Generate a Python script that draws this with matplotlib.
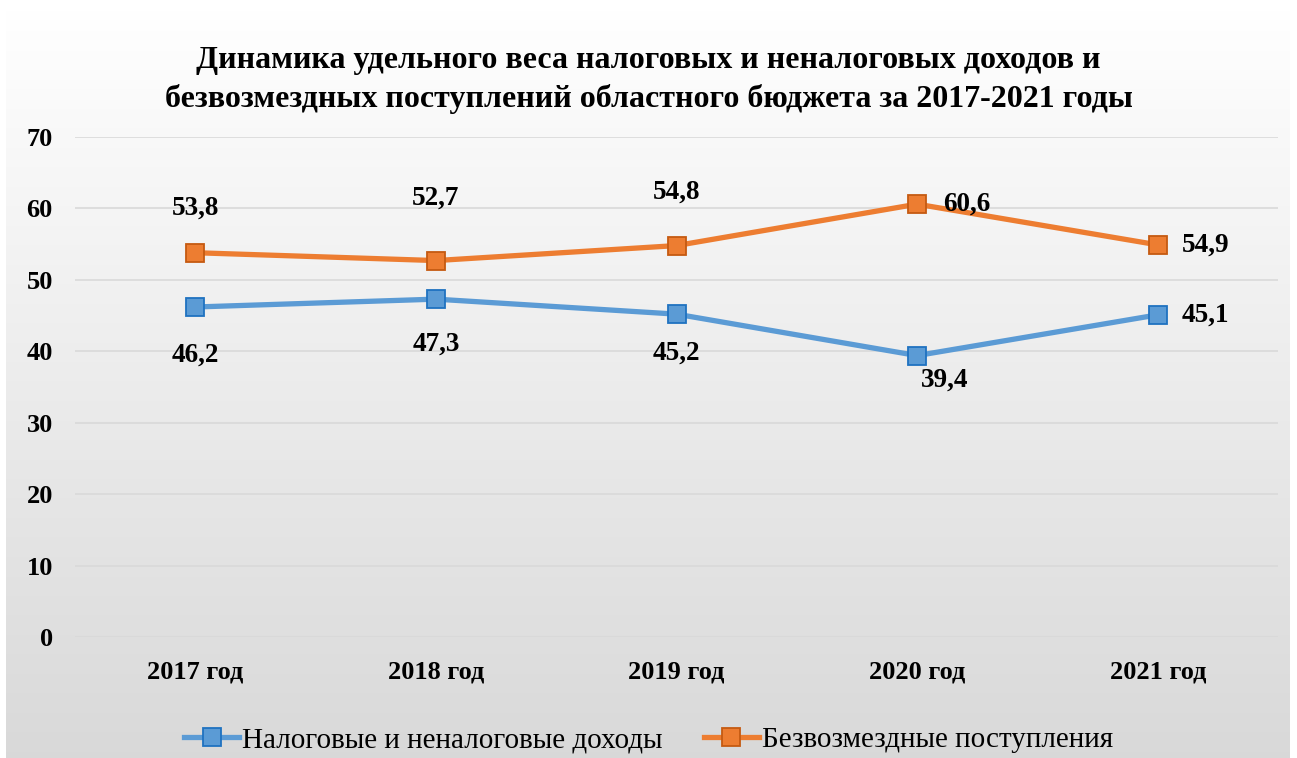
import matplotlib.pyplot as plt
import numpy as np

plt.rcParams['font.family'] = ['Liberation Serif', 'DejaVu Serif']

years = ['2017 год', '2018 год', '2019 год', '2020 год', '2021 год']
tax_income = [46.2, 47.3, 45.2, 39.4, 45.1]
gratuitous = [53.8, 52.7, 54.8, 60.6, 54.9]
title = ('Динамика удельного веса налоговых и неналоговых доходов и\n'
         'безвозмездных поступлений областного бюджета за 2017-2021 годы')

fig = plt.figure(figsize=(12.97, 7.58), dpi=100)

# фон с градиентом
bg = fig.add_axes([6 / 1297, 0, 1284 / 1297, 748 / 758], zorder=0)
grad = np.linspace(1.0, 0.85, 256).reshape(-1, 1)
bg.imshow(np.dstack([grad, grad, grad]), aspect='auto', extent=[0, 1, 0, 1])
bg.axis('off')

ax = fig.add_axes([75 / 1297, 1 - 637 / 758, (1278 - 75) / 1297, 500 / 758], zorder=1)
ax.patch.set_alpha(0)
x = np.arange(len(years))

ax.plot(x, tax_income, color='#5B9BD5', lw=3.8, marker='s', ms=13,
        mfc='#5B9BD5', mec='#1F72C0', mew=1.3, label='Налоговые и неналоговые доходы', zorder=3)
ax.plot(x, gratuitous, color='#ED7D31', lw=3.8, marker='s', ms=13,
        mfc='#ED7D31', mec='#C55A11', mew=1.3, label='Безвозмездные поступления', zorder=3)

# подписи значений (смещения в пикселях)
tax_off = [(0, -48), (0, -45), (0, -39), (28, -25), (48, 0)]
grat_off = [(0, 45), (0, 62), (0, 53), (50, 0), (48, 0)]
for xi, v, off in zip(x, tax_income, tax_off):
    ax.annotate(f'{v:.1f}'.replace('.', ','), (xi, v), xytext=off, textcoords='offset pixels',
                ha='center', va='center', fontsize=19.5, fontweight='bold')
for xi, v, off in zip(x, gratuitous, grat_off):
    ax.annotate(f'{v:.1f}'.replace('.', ','), (xi, v), xytext=off, textcoords='offset pixels',
                ha='center', va='center', fontsize=19.5, fontweight='bold')

ax.set_ylim(0, 70)
ax.set_yticks(range(0, 71, 10))
ax.set_xlim(-0.5, 4.5)
ax.set_xticks(x)
ax.set_xticklabels(years, fontsize=19, fontweight='bold')
for lab in ax.get_yticklabels():
    lab.set_fontsize(19)
    lab.set_fontweight('bold')
ax.tick_params(length=0, pad=16)
ax.tick_params(axis='x', pad=17)
ax.grid(axis='y', color='#D9D9D9', lw=1.2)
for s in ax.spines.values():
    s.set_visible(False)

fig.text(0.5, 1 - 80 / 758, title, ha='center', va='center', fontsize=23,
         fontweight='bold', linespacing=1.42)

fig.legend(loc='center', bbox_to_anchor=(0.5, 1 - 740 / 758), ncol=2, frameon=False,
           fontsize=21, handlelength=1.9, columnspacing=1.4, handletextpad=0.1)

plt.savefig('out.png', dpi=100)
